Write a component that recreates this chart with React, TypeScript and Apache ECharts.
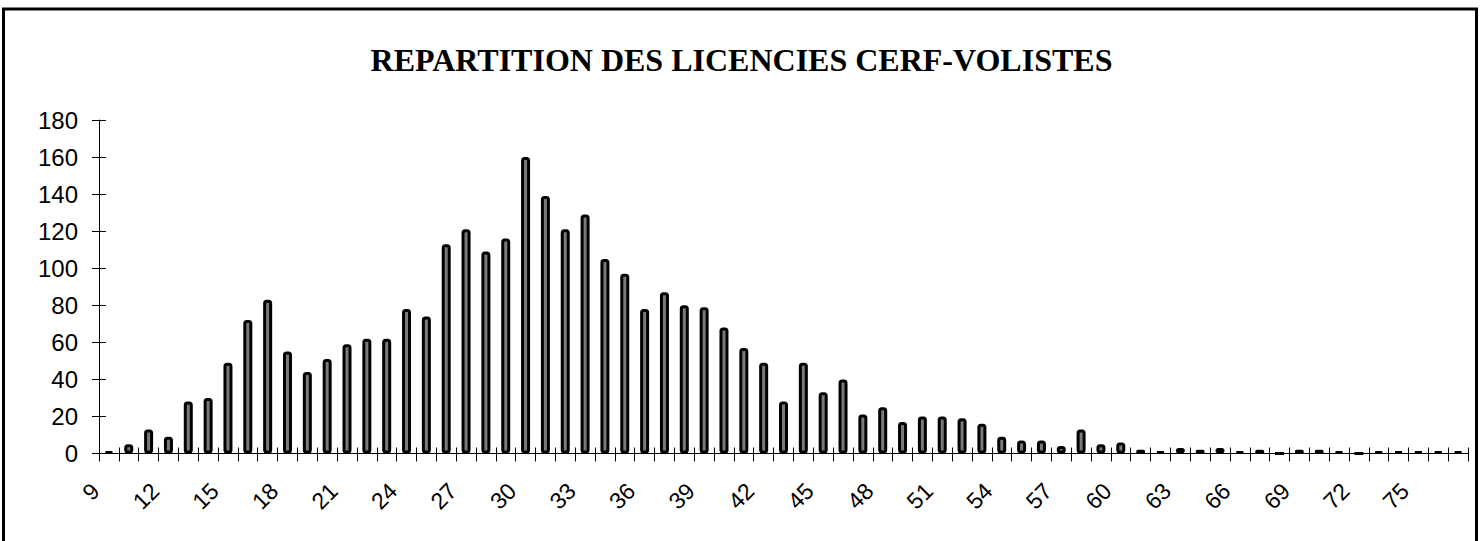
import React, { useEffect, useRef } from "react";
import * as echarts from "echarts";

const titleText = "REPARTITION DES LICENCIES CERF-VOLISTES";

const ages = [
  "9", "10", "11", "12", "13", "14", "15", "16", "17", "18",
  "19", "20", "21", "22", "23", "24", "25", "26", "27", "28",
  "29", "30", "31", "32", "33", "34", "35", "36", "37", "38",
  "39", "40", "41", "42", "43", "44", "45", "46", "47", "48",
  "49", "50", "51", "52", "53", "54", "55", "56", "57", "58",
  "59", "60", "61", "62", "63", "64", "65", "66", "67", "68",
  "69", "70", "71", "72", "73", "74", "75", "76", "77",
];

const licencies = [
  1, 5, 13, 9, 28, 30, 49, 72, 83, 55,
  44, 51, 59, 62, 62, 78, 74, 113, 121, 109,
  116, 160, 139, 121, 129, 105, 97, 78, 87, 80,
  79, 68, 57, 49, 28, 49, 33, 40, 21, 25,
  17, 20, 20, 19, 16, 9, 7, 7, 4, 13,
  5, 6, 2, 1, 3, 2, 3, 1, 2, 0,
  2, 2, 1, 0, 1, 1, 1, 1, 1,
];

const yTicks = { min: 0, max: 180, interval: 20 };

const W = 1483;
const H = 541;
const GRID = { left: 99, right: 15, top: 120, bottom: 87.5 };

export default function App() {
  const ref = useRef<HTMLDivElement>(null);

  useEffect(() => {
    if (!ref.current) return;
    const chart = echarts.init(ref.current, null, { renderer: "svg" });
    const sans = "Arial, 'Liberation Sans', sans-serif";
    const serif = "'Times New Roman', 'Liberation Serif', serif";
    const gridW = W - GRID.left - GRID.right;
    const gridH = H - GRID.top - GRID.bottom;
    chart.setOption({
      animation: false,
      backgroundColor: "#ffffff",
      title: {
        text: titleText,
        left: "center",
        top: 39,
        textStyle: {
          fontFamily: serif,
          fontWeight: "bold",
          fontSize: 32,
          color: "#000",
        },
      },
      graphic: [
        {
          type: "rect",
          shape: { x: 3.5, y: 9, width: 1473, height: 600 },
          style: { fill: "none", stroke: "#000", lineWidth: 3 },
          silent: true,
        },
      ],
      grid: { ...GRID, containLabel: false },
      xAxis: [
        {
          type: "category",
          data: ages,
          position: "bottom",
          boundaryGap: true,
          axisLine: { show: true, onZero: false, lineStyle: { color: "#000", width: 1 } },
          axisTick: { show: true, interval: 0, length: 8, lineStyle: { color: "#000", width: 1 } },
          axisLabel: {
            interval: 2,
            rotate: 45,
            margin: 20,
            padding: [0, 19, 0, 0],
            fontFamily: sans,
            fontSize: 23,
            color: "#000",
          },
          splitLine: { show: false },
        },
        {
          // moved onto the bottom edge: upward half of the crossing ticks
          type: "category",
          data: ages,
          position: "top",
          offset: -gridH,
          boundaryGap: true,
          axisLine: { show: false, onZero: false },
          axisTick: { show: true, inside: false, interval: 0, length: 6, lineStyle: { color: "#000", width: 1 } },
          axisLabel: { show: false },
          splitLine: { show: false },
        },
      ],
      yAxis: [
        {
          type: "value",
          ...yTicks,
          position: "left",
          axisLine: { show: true, lineStyle: { color: "#000", width: 1 } },
          axisTick: { show: true, length: 7, lineStyle: { color: "#000", width: 1 } },
          axisLabel: { margin: 21, fontFamily: sans, fontSize: 24, color: "#000" },
          splitLine: { show: false },
        },
        {
          // moved onto the left edge: rightward half of the crossing ticks
          type: "value",
          ...yTicks,
          position: "right",
          offset: -gridW,
          axisLine: { show: false, onZero: false },
          axisTick: { show: true, inside: false, length: 7, lineStyle: { color: "#000", width: 1 } },
          axisLabel: { show: false },
          splitLine: { show: false },
        },
      ],
      series: [
        {
          type: "bar",
          data: licencies,
          xAxisIndex: 0,
          yAxisIndex: 0,
          barWidth: 9,
          itemStyle: {
            color: "#7a7a7a",
            borderColor: "#000",
            borderWidth: 3,
            borderRadius: 2,
          },
        },
      ],
    });
    return () => chart.dispose();
  }, []);

  return (
    <div
      ref={ref}
      style={{ position: "fixed", left: 0, top: 0, width: W, height: H, background: "#fff" }}
    />
  );
}
